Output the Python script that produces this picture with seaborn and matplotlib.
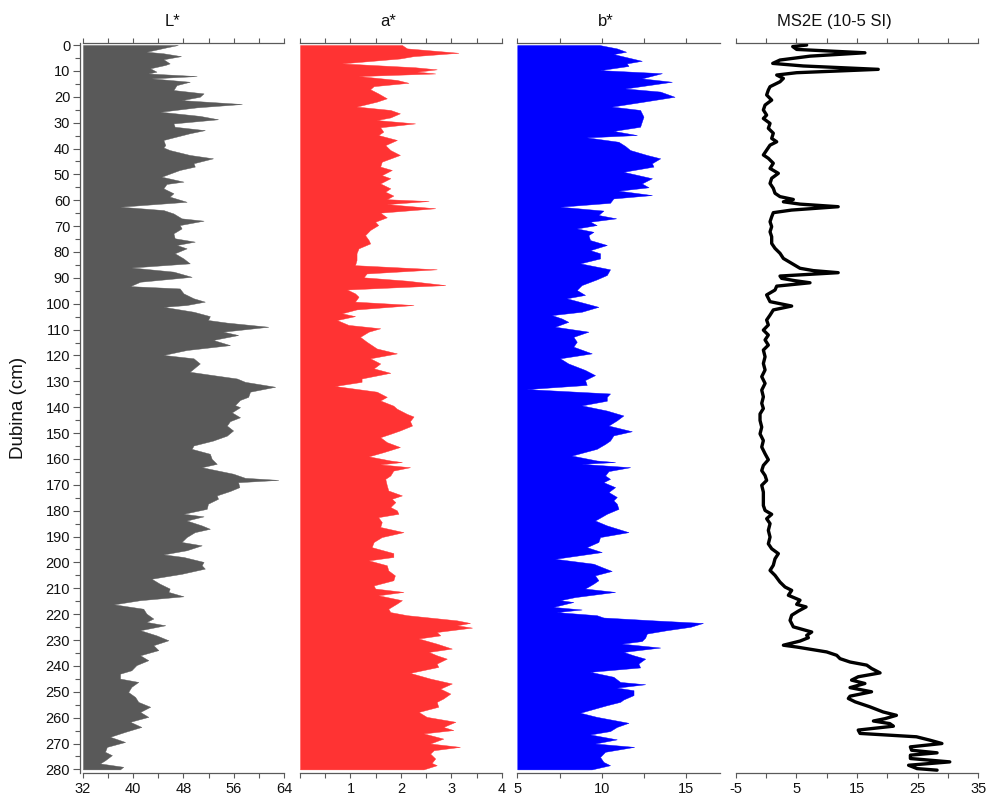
import matplotlib
matplotlib.use("Agg")
import matplotlib.pyplot as plt
import seaborn as sns
import pandas as pd
from matplotlib.ticker import FixedLocator, FixedFormatter, MultipleLocator

# --- L* (dubina u cm, vrijednost)
L_depth = [0, 0.9, 2.6, 3.2, 4.3, 5.5, 7.1, 7.7, 9.0, 10.3,
           11.0, 12.0, 12.9, 14.2, 15.5, 17.4, 18.7, 20.0, 21.3, 22.8,
           24.1, 25.8, 27.4, 28.7, 30.3, 31.6, 32.9, 34.1, 35.7, 36.7,
           38.7, 39.6, 40.6, 42.5, 43.8, 45.7, 47.0, 48.3, 50.9, 52.8,
           53.7, 55.4, 57.3, 58.6, 60.6, 62.5, 63.8, 65.1, 67.0, 67.9,
           69.6, 70.9, 72.8, 74.7, 76.0, 77.3, 78.6, 80.5, 82.5, 84.4,
           86.0, 87.6, 89.6, 91.5, 93.2, 94.1, 96.0, 97.9, 99.2, 100.5,
           101.2, 103.1, 104.8, 106.3, 107.3, 108.9, 110.8, 112.1, 114.0, 116.0,
           117.9, 119.8, 121.1, 123.1, 126.3, 127.6, 128.9, 130.2, 132.1, 134.0,
           136.0, 137.2, 139.2, 140.0, 142.0, 143.9, 145.4, 147.1, 149.0, 151.0,
           152.9, 154.8, 156.1, 158.0, 160.0, 161.9, 163.2, 164.5, 165.7, 167.3,
           168.1, 169.0, 170.9, 172.4, 174.1, 175.4, 177.3, 179.3, 181.2, 182.2,
           183.8, 185.7, 187.0, 188.3, 190.2, 192.1, 193.4, 195.3, 196.9, 197.9,
           199.8, 201.1, 202.4, 204.4, 206.3, 208.2, 210.1, 211.4, 213.1, 214.6,
           216.2, 217.9, 219.8, 221.7, 223.0, 224.3, 226.2, 228.2, 230.1, 232.0,
           233.9, 235.9, 237.8, 239.7, 241.7, 243.0, 244.9, 246.2, 248.1, 250.1,
           252.0, 253.9, 255.8, 257.8, 259.7, 261.6, 263.6, 265.5, 267.4, 269.4,
           271.3, 273.2, 274.5, 276.5, 277.7, 279.0, 280.0]
L_vals = [47.1, 45.3, 42.1, 44.8, 47.6, 44.8, 45.8, 45.1, 42.7, 43.7,
          42.4, 50.1, 42.9, 49.0, 46.9, 46.4, 51.2, 50.6, 47.7, 57.3,
          50.1, 44.3, 50.6, 53.5, 46.4, 46.6, 51.4, 49.0, 46.4, 44.8,
          45.1, 44.8, 45.8, 49.0, 52.7, 49.6, 49.8, 47.4, 44.5, 48.0,
          45.3, 44.8, 46.4, 45.8, 48.5, 37.9, 44.8, 46.4, 47.7, 51.2,
          47.4, 47.7, 46.4, 46.6, 49.8, 46.9, 48.5, 46.6, 48.0, 49.0,
          39.7, 46.4, 49.3, 41.1, 39.5, 47.4, 48.0, 49.6, 51.4, 48.5,
          44.8, 49.6, 52.2, 51.9, 54.9, 61.5, 54.3, 56.7, 52.7, 55.4,
          48.5, 44.8, 49.6, 50.6, 49.0, 52.7, 56.5, 57.8, 62.6, 58.6,
          58.3, 57.0, 56.2, 57.0, 55.7, 57.0, 55.4, 54.9, 55.9, 54.9,
          52.7, 49.6, 49.3, 52.2, 52.5, 53.3, 50.9, 53.5, 55.9, 57.8,
          63.1, 56.7, 56.9, 55.4, 53.3, 53.5, 51.9, 51.7, 48.0, 51.2,
          48.5, 50.9, 52.2, 49.8, 48.5, 47.7, 50.9, 48.5, 44.8, 48.0,
          51.2, 50.9, 51.4, 47.7, 42.9, 44.2, 45.8, 45.6, 48.0, 41.1,
          36.9, 41.6, 42.1, 43.2, 42.1, 45.1, 41.1, 43.7, 45.6, 43.2,
          44.0, 41.1, 42.4, 40.5, 39.7, 37.9, 37.9, 40.8, 39.7, 39.2,
          40.3, 40.8, 42.7, 41.1, 42.4, 39.5, 41.3, 38.7, 36.3, 38.7,
          35.8, 35.5, 36.6, 35.5, 34.7, 38.4, 37.9]

# --- a*
a_depth = [0, 1.3, 3.0, 4.3, 5.2, 7.1, 8.6, 9.4, 10.3, 11.0,
           12.0, 13.5, 14.6, 15.9, 17.1, 18.7, 20.6, 21.9, 23.8, 25.1,
           26.4, 28.0, 29.0, 30.3, 31.8, 33.5, 34.8, 36.7, 38.7, 40.6,
           42.5, 45.1, 47.0, 48.3, 50.3, 51.5, 53.5, 55.4, 56.7, 58.2,
           59.6, 60.3, 61.5, 63.1, 64.8, 66.6, 68.3, 69.6, 71.5, 73.5,
           75.4, 76.7, 78.6, 80.5, 83.1, 85.1, 86.7, 88.3, 89.8, 91.1,
           92.8, 94.5, 96.0, 97.3, 99.2, 100.5, 102.2, 103.7, 104.8, 106.3,
           108.2, 109.5, 110.8, 112.8, 114.7, 117.3, 119.2, 121.1, 123.1, 125.0,
           126.7, 128.9, 130.2, 131.8, 134.0, 136.0, 137.4, 139.4, 140.6, 142.6,
           143.6, 145.4, 147.1, 149.0, 150.3, 151.6, 153.5, 155.4, 157.4, 159.0,
           160.6, 161.2, 162.1, 163.2, 164.5, 166.4, 167.7, 170.2, 172.2, 174.1,
           175.4, 176.7, 178.6, 179.9, 181.2, 182.5, 184.4, 186.3, 188.3, 190.2,
           192.1, 194.1, 196.4, 197.9, 199.2, 201.1, 203.1, 205.0, 206.9, 208.9,
           210.1, 211.4, 212.7, 214.6, 215.9, 217.9, 219.2, 220.4, 222.4, 223.4,
           224.3, 225.2, 226.9, 228.2, 229.4, 231.4, 233.3, 234.6, 235.9, 237.2,
           239.1, 240.4, 242.7, 244.9, 246.8, 248.8, 250.7, 252.6, 253.9, 255.8,
           257.8, 259.7, 261.6, 263.6, 264.8, 266.1, 268.1, 270.0, 271.3, 272.6,
           273.9, 275.8, 277.5, 278.4, 280.0]
a_vals = [2.02, 2.12, 3.14, 2.25, 1.98, 0.83, 2.28, 2.71, 2.32, 2.68,
          1.16, 1.92, 2.15, 1.46, 1.39, 1.55, 1.72, 1.52, 1.12, 1.79,
          1.98, 1.79, 1.52, 2.28, 1.59, 1.65, 1.55, 1.92, 1.69, 1.79,
          1.98, 1.62, 1.59, 1.82, 1.62, 1.79, 1.59, 1.79, 1.69, 1.85,
          1.72, 2.55, 1.72, 2.68, 1.59, 1.72, 1.49, 1.55, 1.39, 1.29,
          1.36, 1.39, 1.16, 1.12, 1.12, 1.09, 2.71, 1.32, 1.26, 2.12,
          2.88, 0.93, 1.09, 1.16, 1.09, 2.25, 1.12, 0.83, 1.09, 0.73,
          0.96, 1.59, 1.36, 1.19, 1.32, 1.52, 1.92, 1.39, 1.59, 1.46,
          1.79, 1.22, 1.22, 0.69, 1.52, 1.72, 1.59, 1.85, 1.92, 2.12,
          2.25, 2.18, 2.22, 1.98, 1.79, 1.59, 1.72, 1.98, 1.65, 1.36,
          1.79, 2.02, 1.59, 2.18, 1.85, 1.79, 1.69, 1.72, 1.75, 2.02,
          1.82, 1.89, 1.79, 1.92, 1.95, 1.55, 1.62, 1.59, 2.05, 1.62,
          1.46, 1.42, 1.85, 1.85, 1.36, 1.72, 1.75, 1.88, 1.85, 1.46,
          1.49, 2.05, 1.55, 2.02, 1.92, 1.75, 1.79, 2.12, 3.11, 3.37,
          3.11, 3.41, 2.71, 2.78, 2.35, 2.71, 3.01, 2.55, 2.71, 2.91,
          2.71, 2.74, 2.18, 2.58, 3.01, 2.78, 2.98, 2.84, 2.71, 2.74,
          2.35, 2.51, 3.08, 2.84, 3.04, 2.45, 2.84, 2.58, 3.17, 2.65,
          2.58, 2.68, 2.61, 2.71, 2.45]

# --- b*
b_depth = [0, 1.3, 2.6, 3.5, 6.1, 7.1, 8.1, 9.7, 10.9, 12.9,
           14.2, 16.8, 18.0, 20.0, 21.9, 23.8, 25.1, 27.7, 29.6, 31.6,
           33.2, 34.8, 35.7, 37.4, 39.0, 40.6, 42.5, 43.8, 45.7, 47.0,
           49.0, 51.5, 53.5, 55.0, 56.3, 58.0, 59.3, 61.0, 62.5, 64.0,
           65.7, 67.0, 68.3, 69.6, 70.9, 72.2, 73.5, 75.4, 77.3, 79.3,
           80.5, 82.5, 84.4, 86.7, 88.9, 90.6, 92.8, 94.7, 96.6, 97.9,
           101.2, 103.1, 104.4, 105.7, 107.0, 108.9, 110.8, 112.8, 114.7, 116.6,
           119.2, 121.1, 123.1, 125.6, 127.6, 129.5, 131.4, 133.0, 134.7, 136.0,
           137.5, 139.3, 141.3, 143.2, 145.1, 147.1, 149.3, 150.9, 152.9, 154.2,
           156.1, 158.7, 160.6, 161.2, 161.9, 163.2, 164.7, 166.4, 167.7, 169.0,
           170.9, 172.8, 174.7, 176.0, 177.3, 179.3, 181.2, 182.7, 183.8, 185.7,
           188.3, 190.2, 192.1, 194.1, 196.0, 198.6, 200.5, 201.8, 203.3, 205.0,
           206.9, 208.2, 210.1, 211.4, 213.4, 214.6, 215.3, 217.2, 218.2, 219.2,
           220.4, 221.3, 222.4, 223.4, 224.9, 226.2, 227.5, 229.1, 230.4, 231.4,
           232.9, 234.6, 235.9, 237.2, 239.1, 240.6, 242.3, 244.2, 246.2, 247.1,
           248.4, 249.4, 251.3, 253.0, 253.9, 255.2, 258.1, 259.7, 262.0, 263.6,
           265.2, 266.5, 268.4, 270.0, 271.3, 273.2, 275.2, 277.1, 278.4, 280.0]
b_vals = [9.86, 10.89, 11.44, 10.69, 12.37, 11.48, 11.58, 9.90, 13.56, 12.37,
          14.15, 11.38, 13.46, 14.31, 12.47, 10.59, 12.27, 12.47, 12.37, 12.27,
          10.69, 12.08, 9.11, 10.99, 11.38, 11.68, 12.67, 13.46, 12.97, 13.06,
          11.28, 12.97, 12.37, 12.77, 10.99, 12.97, 10.69, 10.49, 7.53, 10.10,
          9.80, 10.85, 9.31, 9.70, 8.52, 9.51, 9.21, 9.31, 10.30, 9.31,
          9.90, 9.90, 8.72, 10.49, 10.30, 9.70, 8.81, 8.52, 9.01, 7.92,
          9.80, 8.81, 7.04, 7.63, 8.02, 7.23, 9.21, 8.32, 8.52, 8.32,
          9.41, 7.53, 8.02, 9.01, 9.60, 9.01, 9.11, 5.55, 10.49, 10.30,
          10.30, 8.81, 10.30, 11.28, 10.89, 10.40, 11.78, 10.69, 10.49, 10.20,
          9.70, 8.22, 9.70, 10.79, 8.81, 11.68, 10.40, 10.20, 10.49, 10.10,
          10.79, 10.40, 10.89, 10.69, 10.89, 10.99, 10.30, 9.90, 9.60, 10.30,
          11.58, 9.90, 9.80, 9.11, 10.00, 7.23, 9.51, 10.00, 10.59, 9.60,
          9.80, 9.51, 9.01, 10.79, 8.42, 7.53, 8.32, 7.13, 8.81, 7.33,
          9.70, 10.10, 13.06, 15.99, 15.24, 13.85, 12.67, 12.57, 12.37, 11.18,
          13.46, 11.28, 11.88, 12.57, 12.17, 12.27, 9.31, 10.69, 11.09, 12.57,
          10.89, 11.88, 11.88, 11.28, 11.09, 10.30, 8.72, 9.70, 11.58, 10.89,
          10.49, 9.31, 10.89, 9.60, 11.92, 10.20, 9.90, 10.10, 10.49, 9.41]

# --- MS2E (10-5 SI)
ms_depth = [0.0, 0.6, 1.7, 3.0, 4.3, 5.8, 7.1, 8.1, 9.4, 10.7,
            11.6, 12.9, 14.2, 16.1, 17.4, 19.3, 21.3, 23.2, 25.1, 27.1,
            28.4, 30.3, 32.2, 34.1, 36.1, 37.4, 38.7, 40.6, 42.5, 43.8,
            45.7, 47.7, 49.6, 51.5, 53.5, 55.4, 57.3, 58.6, 59.7, 60.6,
            61.5, 62.5, 63.8, 64.8, 66.4, 68.3, 70.2, 72.2, 74.1, 76.7,
            78.6, 80.5, 82.5, 84.4, 86.3, 87.2, 88.0, 89.3, 90.2, 91.1,
            91.9, 93.2, 94.7, 96.6, 99.2, 100.9, 102.4, 104.4, 106.3, 108.2,
            110.2, 112.1, 114.0, 116.0, 117.9, 120.5, 123.1, 125.6, 128.2, 130.8,
            133.4, 136.0, 138.5, 140.5, 142.6, 145.1, 147.7, 150.3, 152.9, 155.4,
            158.0, 160.3, 162.5, 164.5, 166.4, 168.3, 170.2, 172.8, 175.4, 178.0,
            179.9, 181.4, 183.1, 185.0, 187.6, 190.2, 192.8, 194.7, 196.6, 198.6,
            201.1, 203.1, 205.0, 207.6, 209.5, 210.8, 212.7, 214.6, 216.2, 217.2,
            218.8, 220.4, 222.4, 224.9, 226.9, 228.2, 229.1, 230.4, 232.0, 232.7,
            234.6, 235.9, 237.2, 238.5, 239.7, 241.0, 242.7, 244.2, 245.5, 246.8,
            248.4, 250.0, 251.7, 252.6, 253.9, 255.8, 257.8, 259.1, 260.4, 261.3,
            262.3, 263.3, 264.8, 266.1, 267.4, 268.7, 270.0, 271.3, 272.6, 273.6,
            274.5, 275.8, 277.1, 278.4, 279.7, 280.3]
ms_vals = [6.7, 4.4, 5.05, 16.3, 7.25, 2.3, 1.1, 6.15, 18.5, 5.05,
           1.76, 2.86, 2.3, 0.66, 0.38, 0.1, 0.93, -0.16, -0.44, 0.1,
           -0.44, 0.66, 0.38, 1.2, 0.93, 1.76, 0.66, 0.1, -0.44, 0.38,
           1.2, 0.66, 2.03, 0.93, 0.66, 1.2, 1.48, 2.3, 4.5, 2.86,
           5.6, 11.9, 4.2, 1.2, 0.93, 0.66, 0.93, 0.66, 0.93, 0.93,
           1.48, 2.3, 2.86, 4.23, 5.6, 7.8, 11.9, 2.3, 2.58, 4.78,
           7.25, 1.76, 1.48, 0.1, 0.66, 4.23, 1.2, 0.66, 0.1, 0.38,
           -0.44, 0.38, -0.16, 0.38, -0.44, -0.16, -0.44, -0.16, -0.71, -0.16,
           -0.71, -0.44, -0.71, -0.44, -0.99, -0.99, -0.71, -0.99, -0.44, -0.71,
           -0.16, 0.38, -0.44, -0.71, -0.16, 0.1, -0.71, -0.44, -0.44, -0.44,
           -0.16, 0.93, 0.1, 0.66, 0.38, 0.66, 0.38, 0.93, 2.03, 1.48,
           1.2, 0.66, 1.48, 2.3, 3.13, 4.23, 3.68, 5.6, 5.05, 6.6,
           5.33, 4.23, 3.96, 4.5, 7.53, 6.7, 6.98, 5.6, 2.86, 5.05,
           10.0, 11.65, 12.2, 13.85, 16.6, 17.4, 18.8, 15.2, 14.1, 16.3,
           13.85, 17.4, 13.85, 13.57, 14.7, 17.1, 19.3, 21.5, 19.6, 17.7,
           20.4, 21.0, 15.2, 15.5, 24.8, 27.0, 29.0, 23.8, 24.0, 28.2,
           23.8, 23.8, 30.3, 23.5, 24.9, 28.2]

sns.set_theme(style="ticks")
plt.rcParams['font.family'] = ['Liberation Sans', 'DejaVu Sans']

spine_col = '#5a5a5a'
fig = plt.figure(figsize=(9.87, 7.98), dpi=100)

y_bot, y_h = 0.031, 0.9155
ax_L = fig.add_axes([0.0841, y_bot, 0.2036, y_h])
ax_a = fig.add_axes([0.3040, y_bot, 0.2044, y_h])
ax_b = fig.add_axes([0.5241, y_bot, 0.2054, y_h])
ax_m = fig.add_axes([0.7454, y_bot, 0.2458, y_h])

ax_L.fill_betweenx(L_depth, 32, L_vals, color='#595959', lw=0.3)
ax_a.fill_betweenx(a_depth, 0, a_vals, color='#ff3333', lw=0.3)
ax_b.fill_betweenx(b_depth, 5, b_vals, color='#0000ff', lw=0.3)

df_ms = pd.DataFrame({'depth': ms_depth, 'ms': ms_vals})
sns.lineplot(data=df_ms, x='ms', y='depth', orient='y', sort=False, estimator=None,
             color='black', lw=2.4, ax=ax_m)


def setup(ax, xlim, ticks, labels, title, tx):
    ax.set_xlim(*xlim)
    ax.set_ylim(281.5, -0.9)
    ax.xaxis.set_major_locator(FixedLocator(ticks))
    ax.xaxis.set_major_formatter(FixedFormatter(labels))
    ax.tick_params(axis='x', top=True, bottom=True, labeltop=False, direction='out',
                   length=3.6, width=0.8, color=spine_col, labelsize=10.5, pad=3,
                   labelcolor='#111111')
    for s in ['top', 'bottom']:
        ax.spines[s].set_color(spine_col)
        ax.spines[s].set_linewidth(0.9)
    ax.spines['right'].set_visible(False)
    ax.spines['left'].set_visible(False)
    ax.set_yticks([])
    ax.set_xlabel('')
    ax.set_ylabel('')
    ax.set_title(title, x=tx, pad=12, fontsize=12, color='#111111')


setup(ax_L, (32, 64), [32, 36, 40, 44, 48, 52, 56, 60, 64],
      ['32', '', '40', '', '48', '', '56', '', '64'], 'L*', 0.443)
setup(ax_a, (0, 4), [0, 0.5, 1, 1.5, 2, 2.5, 3, 3.5, 4],
      ['', '', '1', '', '2', '', '3', '', '4'], 'a*', 0.435)
setup(ax_b, (5, 17), [5, 7.5, 10, 12.5, 15],
      ['5', '', '10', '', '15'], 'b*', 0.438)
setup(ax_m, (-5, 35), [-5, 0, 5, 10, 15, 20, 25, 30, 35],
      ['-5', '', '5', '', '15', '', '25', '', '35'], 'MS2E (10-5 SI)', 0.408)

# y os samo na prvom panelu
ax_L.spines['left'].set_visible(True)
ax_L.spines['left'].set_color(spine_col)
ax_L.spines['left'].set_linewidth(0.9)
ax_L.spines['left'].set_position(('outward', 2.2))
ax_L.set_yticks(range(0, 281, 10))
ax_L.yaxis.set_minor_locator(MultipleLocator(5))
ax_L.tick_params(axis='y', which='major', direction='out', length=5, width=0.8,
                 color=spine_col, labelsize=10.5, pad=2, labelcolor='#111111')
ax_L.tick_params(axis='y', which='minor', direction='out', length=3.6, width=0.8,
                 color=spine_col)
ax_L.set_ylabel('Dubina (cm)', fontsize=13.5, color='#111111')
ax_L.yaxis.set_label_coords(-0.28, 0.5)

fig.savefig('out.png', dpi=100)
